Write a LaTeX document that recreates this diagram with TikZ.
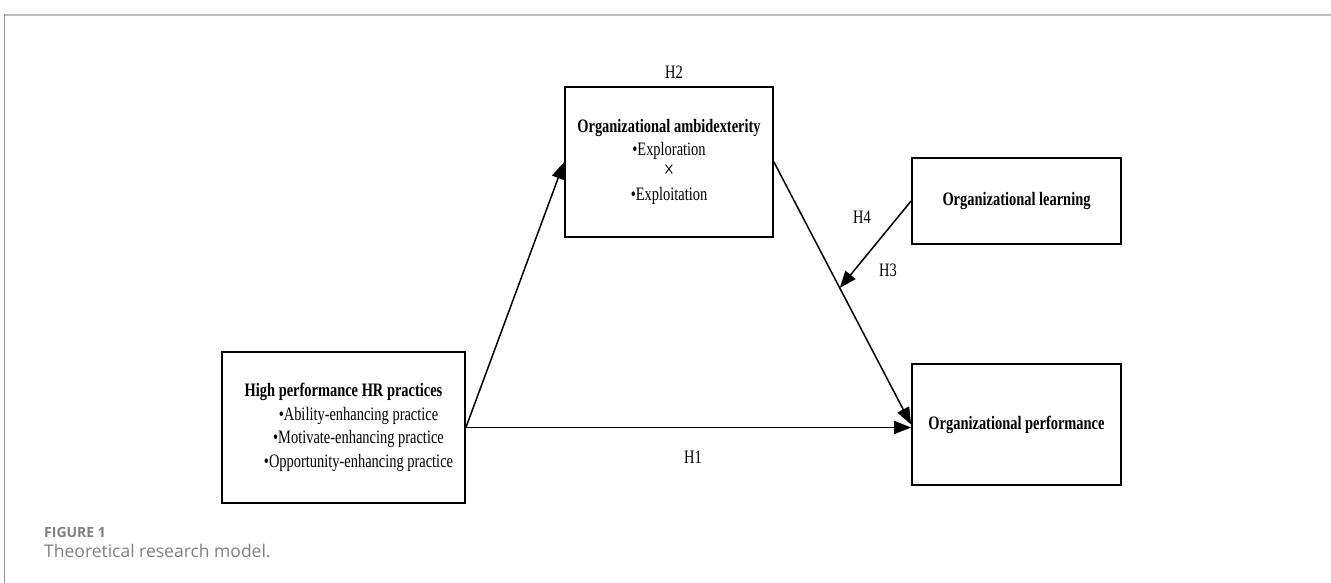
\documentclass[tikz,border=0pt]{standalone}
\usepackage{fontspec}
\setmainfont{Liberation Serif}[FakeStretch=0.76]
\newfontfamily\capfont{Open Sans}
\usetikzlibrary{arrows.meta,calc}
\definecolor{capgray}{HTML}{7F7F7F}
\definecolor{rulegray}{HTML}{BDBDBD}
\definecolor{leftgray}{HTML}{9A9A9A}
\tikzset{
  box/.style={draw, line width=1.8pt, inner sep=0pt, align=center,
    font=\fontsize{19}{23.5}\selectfont},
  link/.style={line width=1.5pt, -{Triangle[length=17pt,width=13pt]}},
  hlabel/.style={font=\fontsize{19}{23}\selectfont, inner sep=0pt},
}
\begin{document}
\begin{tikzpicture}[x=1pt,y=-1pt]
\useasboundingbox (0,0) rectangle (1331,583);
% frame
\draw[rulegray, line width=1.7pt] (4,15) -- (1331,15);
\draw[leftgray, line width=0.8pt] (4,14) -- (4,583);

% boxes
\node[box, minimum width=243pt, minimum height=151pt] (hr) at (343.5,427.5)
  {\textbf{High performance HR practices}\\
   \hspace*{30pt}\textbullet Ability-enhancing practice\\
   \hspace*{30pt}\textbullet Motivate-enhancing practice\\
   \hspace*{30pt}\textbullet Opportunity-enhancing practice};
\node[box, minimum width=208pt, minimum height=150pt, font=\fontsize{19}{22.7}\selectfont] (oa) at (669,162)
  {\textbf{Organizational ambidexterity}\\
   \textbullet Exploration\\
   {\fontsize{24}{22.7}\selectfont ×}\\
   \textbullet Exploitation};
\node[box, minimum width=209pt, minimum height=86pt] (ol) at (1016.5,201)
  {\textbf{Organizational learning}};
\node[box, minimum width=209pt, minimum height=121pt] (op) at (1016.5,424.5)
  {\textbf{Organizational performance}};

% connectors
\draw[link] (hr.east) -- (hr.east -| op.west);
\draw[link] (hr.east) -- (oa.west);
\draw[link] (oa.east) -- (op.west);
\coordinate (mod) at ($(oa.east)!0.48!(op.west)$);
\draw[link] (ol.west) -- (mod);

% labels
\node[hlabel] (h2) at (674,72) {H2};
\node[hlabel] (h4) at (862,217) {H4};
\node[hlabel] (h3) at (888,270) {H3};
\node[hlabel] (h1) at (693,457) {H1};

% caption
\node[anchor=base west, inner sep=0pt, text=capgray, font=\capfont\bfseries\fontsize{14}{16}\selectfont] (fig) at (44,537) {FIGURE 1};
\node[anchor=base west, inner sep=0pt, text=capgray, font=\capfont\fontsize{17.5}{20}\selectfont] (cap) at (44,557) {Theoretical research model.};
\end{tikzpicture}
\end{document}
